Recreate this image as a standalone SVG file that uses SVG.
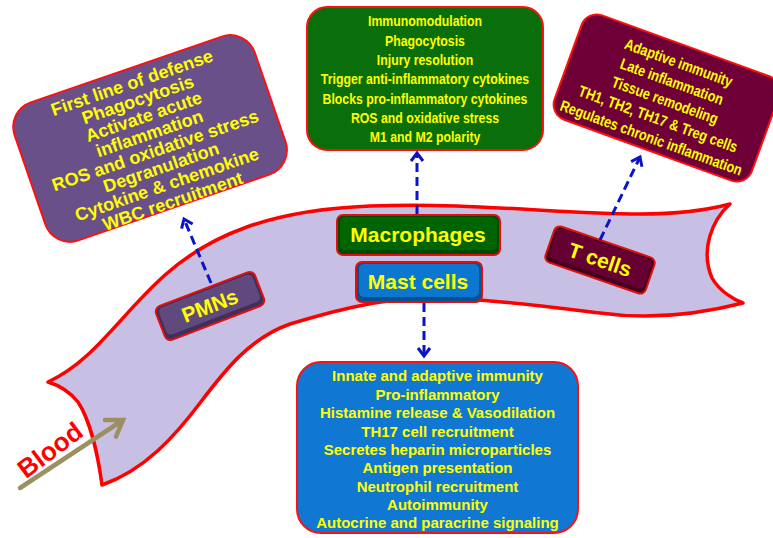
<svg xmlns="http://www.w3.org/2000/svg" width="773" height="538" viewBox="0 0 773 538">
<style>
.t{font-family:"Liberation Sans",Arial,sans-serif;font-weight:bold;fill:#ffff00;text-anchor:middle}
.box{stroke:#ff1010;stroke-width:2}
.lbl{stroke:#e01010;stroke-width:2}
.dash{fill:none;stroke:#0a14c8;stroke-width:3;stroke-dasharray:9 5}
</style>
<defs>
<marker id="ah" markerUnits="userSpaceOnUse" markerWidth="16" markerHeight="16" refX="11" refY="8" orient="auto" viewBox="0 0 16 16">
<path d="M3,2 L11,8 L3,14" fill="none" stroke="#0a14c8" stroke-width="3"/>
</marker>
<marker id="ahb" markerUnits="userSpaceOnUse" markerWidth="26" markerHeight="26" refX="20" refY="13" orient="auto" viewBox="0 0 26 26">
<path d="M5,3 L20,13 L5,23" fill="none" stroke="#9b9062" stroke-width="4.5" stroke-linecap="round"/>
</marker>
</defs>
<rect width="773" height="538" fill="#ffffff"/>
<g id="vessel">
<path d="M48,382 C95,360 120,315 165,275 C210,235 270,210 370,206 C470,202 560,214 640,214 C690,214 715,208 730,204 C712,220 700,250 712,278 C720,292 735,300 743,303 C700,314 650,320 600,313 C550,307 480,298 430,298 C380,298 330,312 290,324 C250,338 225,370 200,403 C175,436 145,470 102,485 C98,455 90,420 78,402 C70,392 58,385 48,382 Z" fill="#c8c0e4" stroke="#ff0000" stroke-width="3.5" stroke-linejoin="round"/>
</g>
<g id="node-pmn-info" transform="translate(152,141) rotate(-19)">
<rect class="box" x="-128" y="-76" width="254" height="146" rx="26" fill="#6a5089"/>
<g class="t" font-size="18">
<text x="0" y="-55.5">First line of defense</text>
<text x="0" y="-37.6">Phagocytosis</text>
<text x="0" y="-19.7">Activate acute</text>
<text x="0" y="-1.8">inflammation</text>
<text x="0" y="16.1">ROS and oxidative stress</text>
<text x="0" y="34">Degranulation</text>
<text x="0" y="51.9">Cytokine &amp; chemokine</text>
<text x="0" y="69.8">WBC recruitment</text>
</g>
</g>
<g id="node-macrophage-info">
<rect class="box" x="307" y="7" width="236" height="143" rx="20" fill="#0a6e0a"/>
<g class="t" font-size="15" transform="translate(425,0) scale(0.82,1)">
<text x="0" y="26.4">Immunomodulation</text>
<text x="0" y="45.7">Phagocytosis</text>
<text x="0" y="65">Injury resolution</text>
<text x="0" y="84.4">Trigger anti-inflammatory cytokines</text>
<text x="0" y="103.7">Blocks pro-inflammatory cytokines</text>
<text x="0" y="123">ROS and oxidative stress</text>
<text x="0" y="142.4">M1 and M2 polarity</text>
</g>
</g>
<g id="node-tcell-info" transform="translate(665,100) rotate(20)">
<rect class="box" x="-104" y="-58" width="210" height="111" rx="16" fill="#6e0037"/>
<g class="t" font-size="15.5" transform="scale(0.82,1)">
<text x="0" y="-34.4">Adaptive immunity</text>
<text x="0" y="-14.4">Late inflammation</text>
<text x="0" y="5.6">Tissue remodeling</text>
<text x="0" y="25.6">TH1, TH2, TH17 &amp; Treg cells</text>
<text x="0" y="45.6">Regulates chronic inflammation</text>
</g>
</g>
<g id="node-mast-info">
<rect class="box" x="297" y="362" width="281" height="171" rx="24" fill="#1078d2"/>
<g class="t" font-size="15">
<text x="437.5" y="381.4">Innate and adaptive immunity</text>
<text x="437.5" y="399.8">Pro-inflammatory</text>
<text x="437.5" y="418.2">Histamine release &amp; Vasodilation</text>
<text x="437.5" y="436.5">TH17 cell recruitment</text>
<text x="437.5" y="454.9">Secretes heparin microparticles</text>
<text x="437.5" y="473.3">Antigen presentation</text>
<text x="437.5" y="491.7">Neutrophil recruitment</text>
<text x="437.5" y="510">Autoimmunity</text>
<text x="437.5" y="528.4">Autocrine and paracrine signaling</text>
</g>
</g>
<g id="node-pmns" transform="translate(210,306) rotate(-21)">
<rect class="lbl" x="-53" y="-18" width="106" height="36" rx="6" fill="#3f2f5a"/>
<rect x="-50" y="-16" width="100" height="29" rx="5" fill="#604a7d"/>
<text class="t" x="0" y="7" font-size="21">PMNs</text>
</g>
<g id="node-macrophages">
<rect class="lbl" x="337" y="215" width="163" height="40" rx="6" fill="#004a00"/>
<rect x="340" y="217" width="157" height="33" rx="5" fill="#006400"/>
<text class="t" x="418" y="242" font-size="21">Macrophages</text>
</g>
<g id="node-mastcells">
<rect class="lbl" x="356" y="262" width="126" height="40" rx="6" fill="#0a4f8e"/>
<rect x="359" y="264" width="120" height="33" rx="5" fill="#0b77d0"/>
<text class="t" x="418" y="289" font-size="21">Mast cells</text>
</g>
<g id="node-tcells" transform="translate(600,260) rotate(19)">
<rect class="lbl" x="-53" y="-19" width="106" height="38" rx="6" fill="#420020"/>
<rect x="-50" y="-17" width="100" height="31" rx="5" fill="#660033"/>
<text class="t" x="0" y="7" font-size="21">T cells</text>
</g>
<g id="connectors">
<path class="dash" d="M211,283 L184,219" marker-end="url(#ah)"/>
<path class="dash" d="M417,214 L417,153" marker-end="url(#ah)"/>
<path class="dash" d="M424,303 L424,356" marker-end="url(#ah)"/>
<path class="dash" d="M600,240 L640,157" marker-end="url(#ah)"/>
<path d="M20,488 L123,420" fill="none" stroke="#9b9062" stroke-width="4.5" stroke-linecap="round" marker-end="url(#ahb)"/>
</g>
<g id="label-blood" transform="translate(50,450) rotate(-37)">
<text x="0" y="9" font-family="Liberation Sans,Arial,sans-serif" font-weight="bold" font-size="26" fill="#ff0000" text-anchor="middle">Blood</text>
</g>
</svg>
